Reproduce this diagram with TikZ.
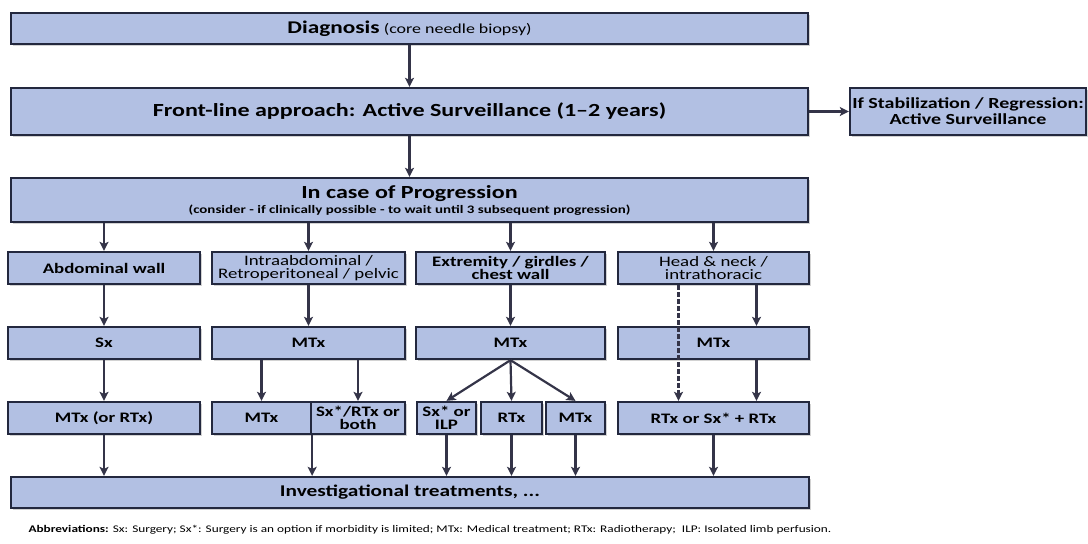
\documentclass[tikz,border=0pt]{standalone}
\usepackage{fontspec}
\setmainfont{Carlito}[FakeStretch=1.3]
\usetikzlibrary{arrows.meta,shadows}
\definecolor{boxfill}{RGB}{178,192,227}
\definecolor{boxline}{RGB}{35,40,62}
\definecolor{arrline}{RGB}{52,52,72}
\newcommand{\tfont}{\fontsize{18.5}{19}\selectfont\bfseries}
\newcommand{\dfont}{\fontsize{17.9}{19}\selectfont\bfseries}
\newcommand{\sfont}{\fontsize{13.8}{19}\selectfont\mdseries}
\newcommand{\nfont}{\fontsize{11.5}{13}\selectfont\bfseries}
\newcommand{\stfont}{\fontsize{15.4}{16}\selectfont\bfseries}
\newcommand{\rfont}{\fontsize{14.5}{13}\selectfont\bfseries}
\newcommand{\lfont}{\fontsize{14.5}{13}\selectfont\mdseries}
\newcommand{\ifont}{\fontsize{16.4}{17}\selectfont\bfseries}
\newcommand{\afont}{\fontsize{10.2}{11}\selectfont}
\newcommand{\mkbox}[7][]{% #1: extra options, #2: name, #3: x1, #4: y1, #5: x2, #6: y2, #7: text
	\node[box,#1,minimum width={#5-#3},minimum height={#6-#4}] (#2) at ({(#3+#5)/2},{(#4+#6)/2}) {#7};
}

\begin{document}
\begin{tikzpicture}[x=1pt,y=-1pt,
		box/.style={draw=boxline,fill=boxfill,line width=2.3pt,inner sep=0pt,align=center,font=\rfont,
			drop shadow={shadow xshift=2pt,shadow yshift=-2pt,fill=black!35}},
		arr/.style={draw=arrline,line width=2.2pt,-{Stealth[length=9pt,width=9pt,inset=2pt]}}]
	\useasboundingbox (0,0) rectangle (1088,544);
	
	% Main line
	\mkbox{diag}{11}{13}{808}{44}{{\dfont Diagnosis} {\sfont (core needle biopsy)}}
	\mkbox[font=\tfont]{front}{11}{88}{808}{135}{Front-line approach: Active Surveillance (1–2 years)}
	\mkbox[font=\stfont]{stab}{850}{88}{1086}{135}{If Stabilization / Regression:\\Active Surveillance}
	\mkbox[font=\tfont]{prog}{11}{178}{808}{222}{In case of Progression\\[-4pt]{\nfont (consider - if clinically possible - to wait until 3 subsequent progression)}}
	
	% Sites
	\mkbox{abd}{8}{252}{200}{284}{Abdominal wall}
	\mkbox[font=\lfont]{intra}{212}{252}{405}{284}{Intraabdominal /\\Retroperitoneal / pelvic}
	\mkbox{extr}{416}{252}{605}{284}{Extremity / girdles /\\chest wall}
	\mkbox[font=\lfont]{head}{618}{252}{809}{284}{Head \& neck /\\intrathoracic}
	
	% First treatment
	\mkbox{sxa}{8}{327}{200}{359}{Sx}
	\mkbox{mtxb}{212}{327}{405}{359}{MTx}
	\mkbox{mtxc}{416}{327}{605}{359}{MTx}
	\mkbox{mtxd}{618}{327}{809}{359}{MTx}
	
	% Next treatment
	\mkbox{mtxa3}{8}{402}{200}{434}{MTx (or RTx)}
	\mkbox{mtxb3}{212}{402}{311}{434}{MTx}
	\mkbox{sxb3}{311}{402}{405}{434}{Sx*/RTx or\\both}
	\mkbox{sxc3}{417}{402}{476}{434}{Sx* or\\ILP}
	\mkbox{rtxc3}{481}{402}{542}{434}{RTx}
	\mkbox{mtxc3}{546}{402}{605}{434}{MTx}
	\mkbox{rtxd3}{618}{402}{809}{434}{RTx or Sx* + RTx}
	
	% Last step
	\mkbox[font=\ifont]{inv}{11}{477}{809}{508}{Investigational treatments, ...}
	
	% Footnote
	\node[anchor=west,font=\afont] (abbr) at (25,530) {\textbf{Abbreviations:} Sx: Surgery; Sx*: Surgery is an option if morbidity is limited; MTx: Medical treatment; RTx: Radiotherapy;~ ILP: Isolated limb perfusion.};
	
	% Arrows
	\draw[arr] (diag) -- (front);
	\draw[arr] (front) -- (prog);
	\draw[arr] (front) -- (stab);
	\foreach \c in {abd,intra,extr,head} \draw[arr] (prog.south -| \c.north) -- (\c.north);
	\foreach \a/\b in {abd/sxa,intra/mtxb,extr/mtxc,sxa/mtxa3} \draw[arr] (\a) -- (\b);
	\draw[arr] ([xshift=43pt]head.south) -- ([xshift=43pt]mtxd.north);
	\draw[arr] ([xshift=43pt]mtxd.south) -- ([xshift=43pt]rtxd3.north);
	\draw[arr,dash pattern=on 5pt off 2pt] ([xshift=-35pt]head.south) -- ([xshift=-35pt]rtxd3.north);
	\draw[arr] (mtxb.south -| mtxb3.north) -- (mtxb3.north);
	\draw[arr] (mtxb.south -| sxb3.north) -- (sxb3.north);
	\foreach \c in {sxc3,rtxc3,mtxc3} \draw[arr] (mtxc.south) -- (\c.north);
	\foreach \c in {mtxa3,sxc3,rtxc3,mtxc3,rtxd3} \draw[arr] (\c.south) -- (\c.south |- inv.north);
	\draw[arr] (mtxb3.south east) -- (mtxb3.south east |- inv.north);
\end{tikzpicture}
\end{document}
